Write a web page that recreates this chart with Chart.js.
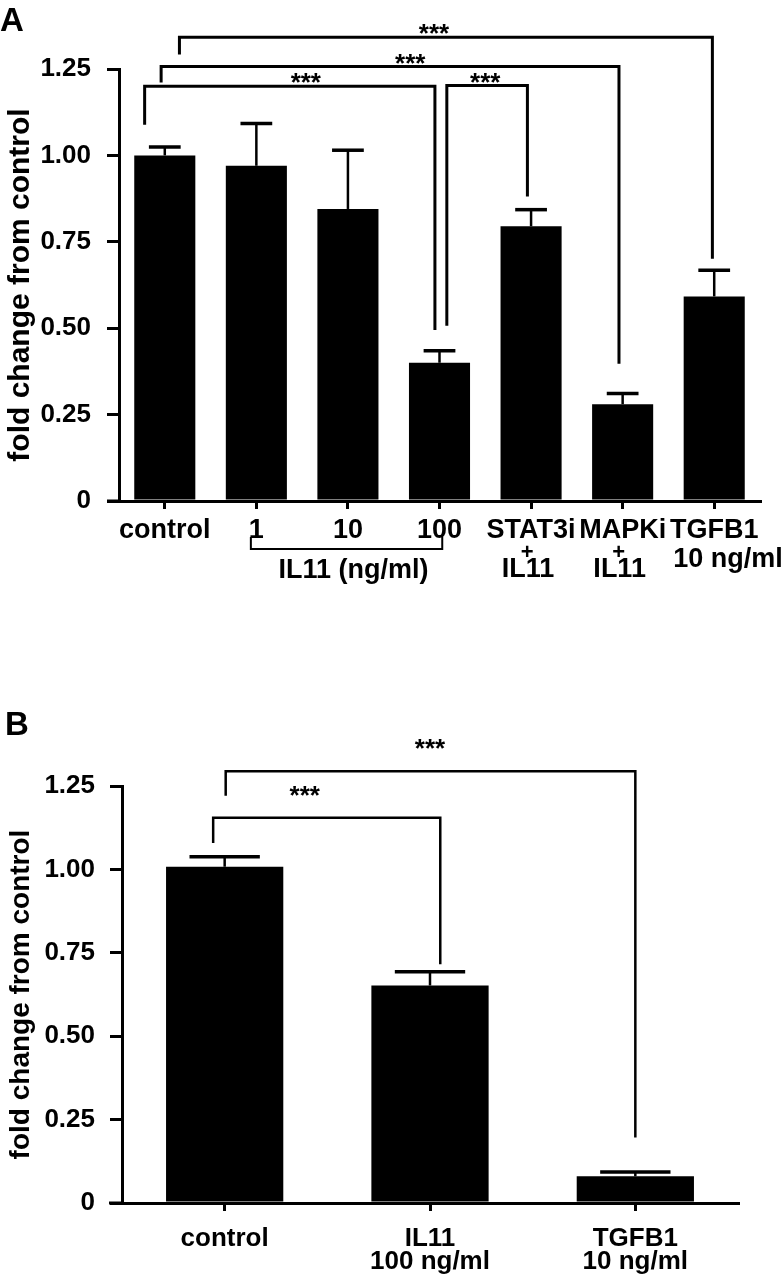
<!DOCTYPE html>
<html>
<head>
<meta charset="utf-8">
<script src="https://cdn.jsdelivr.net/npm/chart.js@4.4.1/dist/chart.umd.min.js"></script>
<style>
  body{margin:0;background:#fff;width:783px;height:1280px;position:relative;overflow:hidden}
  .panel{position:absolute;left:0;width:783px;height:640px}
  #wrapA{top:0}
  #wrapB{top:640px}
</style>
</head>
<body>
<div class="panel" id="wrapA"><canvas id="chartA" width="783" height="640"></canvas></div>
<div class="panel" id="wrapB"><canvas id="chartB" width="783" height="640"></canvas></div>
<script>
// Panel A data
const labelsA = ['control', '1', '10', '100', 'STAT3i', 'MAPKi', 'TGFB1'];
const valuesA = [1.00, 0.97, 0.845, 0.40, 0.795, 0.28, 0.592];
const errorsA = [0.024, 0.122, 0.17, 0.035, 0.048, 0.031, 0.076];
const subLabelsA = [null, null, null, null, '+IL11', '+IL11', '10 ng/ml'];
const groupLabelA = 'IL11 (ng/ml)';
const groupRangeA = [1, 3];
// significance brackets: [from, to, line level, left leg end, right leg end]
const bracketsA = [
  [0, 3, 1.200, 1.089, 0.495],
  [3, 4, 1.202, 0.507, 0.881],
  [0, 5, 1.257, 1.211, 0.397],
  [0, 6, 1.342, 1.292, 0.701]
];

// Panel B data
const labelsB = ['control', ['IL11', '100 ng/ml'], ['TGFB1', '10 ng/ml']];
const valuesB = [1.008, 0.652, 0.08];
const errorsB = [0.03, 0.041, 0.013];
const bracketsB = [
  [0, 1, 1.155, 1.079, 0.716],
  [0, 2, 1.294, 1.221, 0.196]
];

// shared axis
const yTickValues = [0, 0.25, 0.5, 0.75, 1.0, 1.25];
const yTickLabels = ['0', '0.25', '0.50', '0.75', '1.00', '1.25'];
const yTitle = 'fold change from control';
const stars = '***';

Chart.defaults.font.family = "'Liberation Sans', Arial, Helvetica, sans-serif";
Chart.defaults.color = '#000';

// draws error bars, brackets, stars, panel letter and extra labels
function annotations(cfg){
  return {
    id: 'annot' + cfg.letter,
    afterDraw(chart){
      const {ctx, chartArea, scales:{x, y}} = chart;
      const meta = chart.getDatasetMeta(0);
      const vals = chart.data.datasets[0].data;
      const step = x.getPixelForValue(1) - x.getPixelForValue(0);
      ctx.save();
      ctx.strokeStyle = '#000';
      ctx.fillStyle = '#000';
      ctx.lineJoin = 'miter';

      // x axis sticks out left of the y axis
      ctx.lineWidth = 3;
      ctx.beginPath();
      ctx.moveTo(chartArea.left - cfg.axisExt, chartArea.bottom);
      ctx.lineTo(chartArea.left, chartArea.bottom);
      ctx.stroke();

      // error bars (upper only)
      meta.data.forEach((bar, i) => {
        const top = y.getPixelForValue(vals[i] + cfg.errors[i]);
        const half = bar.width * cfg.capFrac / 2;
        ctx.lineWidth = 2.5;
        ctx.beginPath(); ctx.moveTo(bar.x, bar.y); ctx.lineTo(bar.x, top); ctx.stroke();
        ctx.lineWidth = 3.5;
        ctx.beginPath(); ctx.moveTo(bar.x - half, top); ctx.lineTo(bar.x + half, top); ctx.stroke();
      });

      // significance brackets
      ctx.font = 'bold 26px ' + Chart.defaults.font.family;
      ctx.textAlign = 'center';
      ctx.textBaseline = 'alphabetic';
      const m = ctx.measureText(stars);
      cfg.brackets.forEach(([a, b, lv, la, lb], k) => {
        const [oa, ob] = cfg.legOffsets[k];
        const xa = x.getPixelForValue(a) + oa * step;
        const xb = x.getPixelForValue(b) + ob * step;
        const yl = y.getPixelForValue(lv);
        ctx.lineWidth = cfg.bracketWidth;
        ctx.beginPath();
        ctx.moveTo(xa, y.getPixelForValue(la));
        ctx.lineTo(xa, yl);
        ctx.lineTo(xb, yl);
        ctx.lineTo(xb, y.getPixelForValue(lb));
        ctx.stroke();
        const sx = x.getPixelForValue(0) + cfg.starPos[k] * step;
        ctx.fillText(stars, sx, yl - cfg.starGap - m.actualBoundingBoxDescent);
      });

      // panel letter
      ctx.textAlign = 'left';
      ctx.font = 'bold 33px ' + Chart.defaults.font.family;
      ctx.fillText(cfg.letter, cfg.letterPos[0], cfg.letterPos[1]);

      // second row labels under the x axis (panel A)
      if (cfg.subLabels){
        const b = chartArea.bottom;
        ctx.textBaseline = 'middle';
        ctx.textAlign = 'center';
        cfg.subLabels.forEach((s, i) => {
          if (!s) return;
          const cx = x.getPixelForValue(i);
          if (s[0] === '+'){
            ctx.font = 'bold 22px ' + Chart.defaults.font.family;
            ctx.fillText('+', cx - 4, b + 52);
            ctx.font = 'bold 27px ' + Chart.defaults.font.family;
            ctx.fillText(s.slice(1), cx - 3, b + 69);
          } else {
            ctx.font = 'bold 27px ' + Chart.defaults.font.family;
            ctx.fillText(s, cx + 0.15 * step, b + 59);
          }
        });
        // group bracket
        const g0 = x.getPixelForValue(cfg.groupRange[0]) - 0.06 * step;
        const g1 = x.getPixelForValue(cfg.groupRange[1]) + 0.03 * step;
        ctx.lineWidth = 2;
        ctx.beginPath();
        ctx.moveTo(g0, b + 36); ctx.lineTo(g0, b + 48); ctx.lineTo(g1, b + 48); ctx.lineTo(g1, b + 34);
        ctx.stroke();
        ctx.font = 'bold 27px ' + Chart.defaults.font.family;
        ctx.fillText(cfg.groupLabel, (g0 + g1) / 2 + 7, b + 70);
      }
      ctx.restore();
    }
  };
}

function makeChart(id, labels, values, opt, plugin){
  return new Chart(document.getElementById(id), {
    type: 'bar',
    data: {
      labels: labels,
      datasets: [{
        data: values,
        backgroundColor: '#000',
        borderWidth: 0,
        barPercentage: opt.barPct,
        categoryPercentage: 1
      }]
    },
    options: {
      responsive: false,
      animation: false,
      layout: {padding: {top: opt.top, right: opt.right, left: 0, bottom: 0}},
      plugins: {legend: {display: false}, tooltip: {enabled: false}},
      scales: {
        x: {
          offset: true,
          grid: {offset: false, drawOnChartArea: false, drawTicks: true, tickLength: 8, lineWidth: 3, color: '#000'},
          border: {display: true, color: '#000', width: 3},
          ticks: {
            color: '#000', maxRotation: 0, autoSkip: false, padding: opt.xPad,
            font: {size: opt.xFont, weight: 'bold', lineHeight: opt.xLine}
          },
          afterFit(scale){ scale.height = opt.xHeight; }
        },
        y: {
          min: 0, max: 1.25,
          grid: {drawOnChartArea: false, drawTicks: true, tickLength: 12, lineWidth: 3, color: '#000'},
          border: {display: true, color: '#000', width: 3},
          afterBuildTicks(scale){ scale.ticks = yTickValues.map(v => ({value: v})); },
          ticks: {
            color: '#000', padding: opt.yPad,
            font: {size: 26, weight: 'bold'},
            callback: (v) => yTickLabels[yTickValues.indexOf(v)]
          },
          title: {
            display: true, text: yTitle, color: '#000',
            font: {size: opt.titleFont, weight: 'bold'},
            padding: {top: opt.titlePad, bottom: 0}
          },
          afterFit(scale){ scale.width = opt.yWidth; }
        }
      }
    },
    plugins: [plugin]
  });
}

makeChart('chartA', labelsA, valuesA, {
  barPct: 0.667, top: 69, right: 23, xHeight: 139, yWidth: 119,
  xPad: 5, xFont: 27, xLine: 1.2, yPad: 16, titleFont: 30, titlePad: 3
}, annotations({
  letter: 'A', letterPos: [0, 31],
  errors: errorsA, capFrac: 0.52, axisExt: 12,
  brackets: bracketsA, bracketWidth: 3,
  legOffsets: [[-0.22, -0.05], [0.08, -0.04], [-0.04, -0.04], [0.16, -0.02]],
  starPos: [1.54, 3.5, 2.68, 2.94], starGap: 3,
  subLabels: subLabelsA, groupLabel: groupLabelA, groupRange: groupRangeA
}));

makeChart('chartB', labelsB, valuesB, {
  barPct: 0.571, top: 146, right: 45, xHeight: 77, yWidth: 122,
  xPad: 16, xFont: 26, xLine: 0.9, yPad: 15, titleFont: 28, titlePad: 4
}, annotations({
  letter: 'B', letterPos: [5, 95],
  errors: errorsB, capFrac: 0.6, axisExt: 13,
  brackets: bracketsB, bracketWidth: 2.5,
  legOffsets: [[-0.056, 0.05], [0.005, 0]],
  starPos: [0.39, 1.0], starGap: 22
}));
</script>
</body>
</html>
